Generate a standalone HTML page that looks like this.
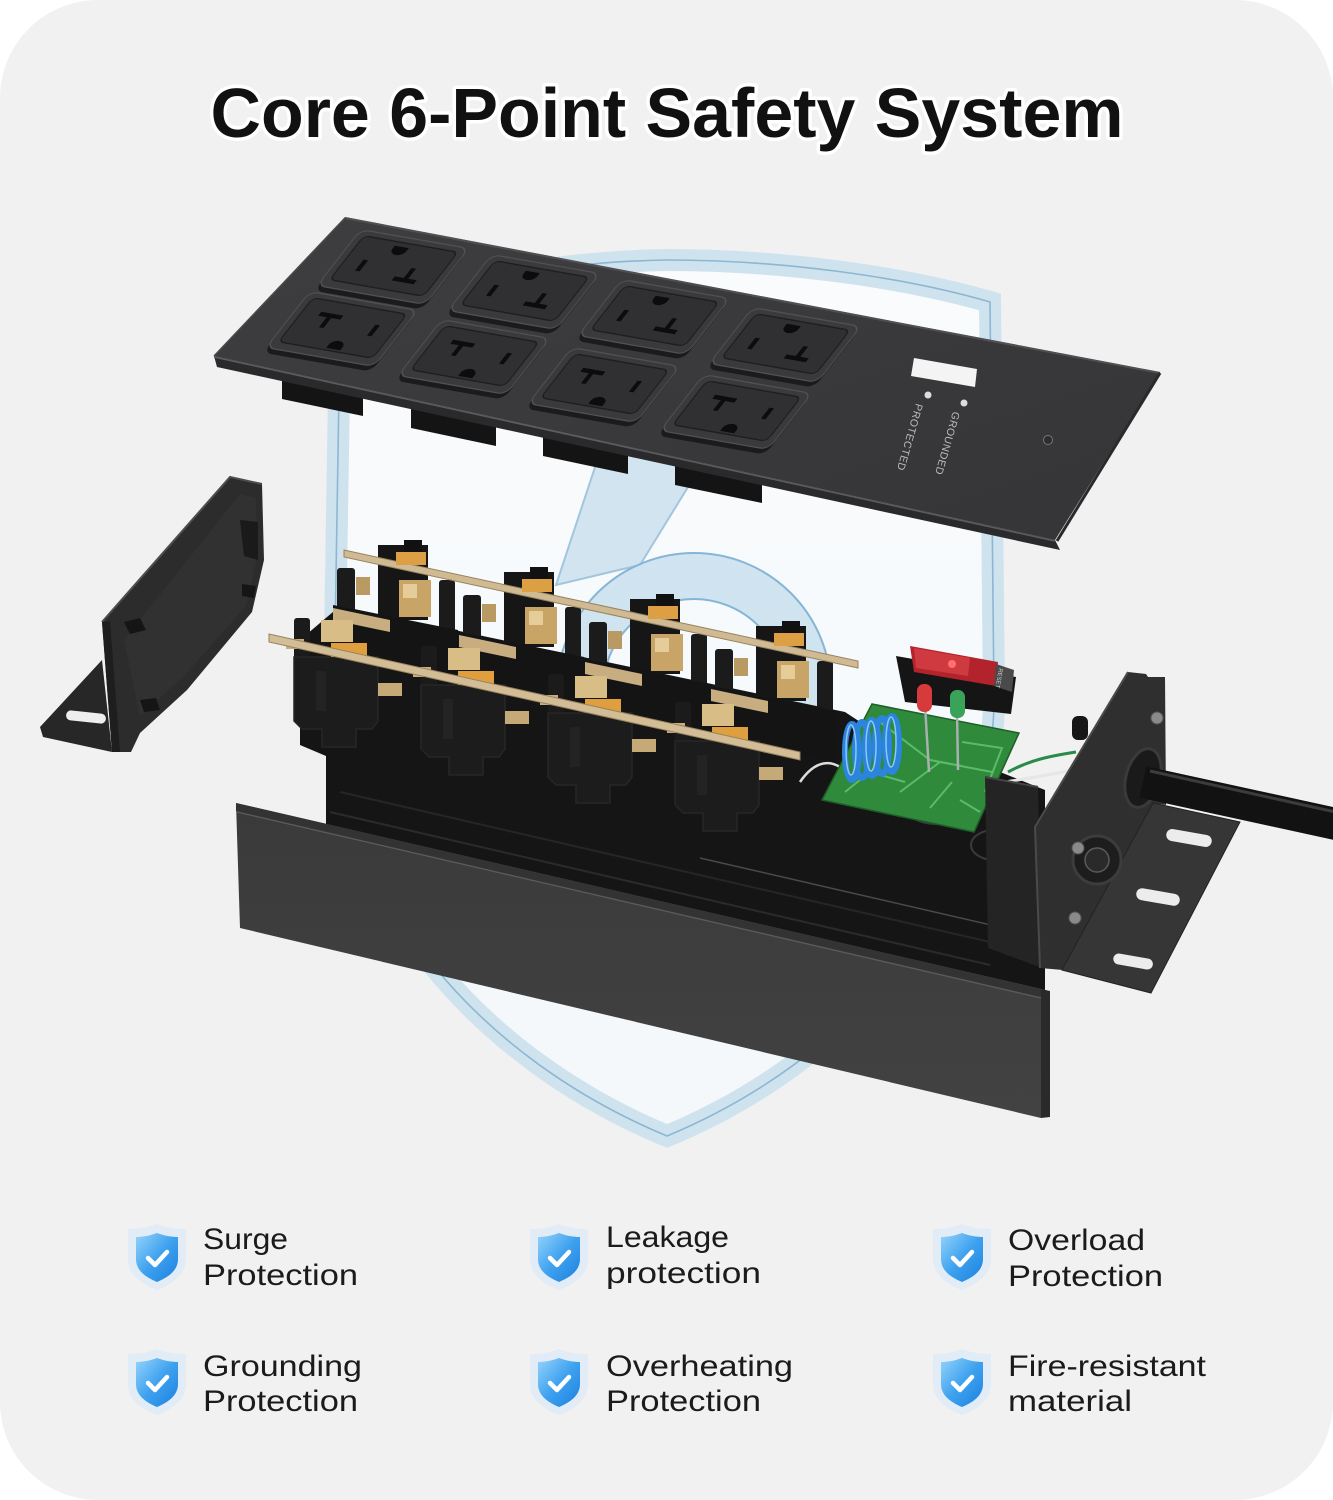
<!DOCTYPE html>
<html><head><meta charset="utf-8">
<style>
html,body{margin:0;padding:0;background:#fff;}
svg{display:block;}
</style></head>
<body>
<svg width="1333" height="1500" viewBox="0 0 1333 1500" xmlns="http://www.w3.org/2000/svg">
<defs>
 <linearGradient id="shFill" x1="0" y1="0" x2="0" y2="1">
  <stop offset="0" stop-color="#f9fbfc"/><stop offset="1" stop-color="#f4f8fb"/>
 </linearGradient>
 <linearGradient id="icon" x1="0" y1="0" x2="1" y2="1">
  <stop offset="0" stop-color="#95d3fb"/><stop offset="0.5" stop-color="#3fa2ef"/><stop offset="1" stop-color="#1b80e0"/>
 </linearGradient>
 <linearGradient id="plateG" x1="0" y1="0" x2="1" y2="1">
  <stop offset="0" stop-color="#3e3e40"/><stop offset="1" stop-color="#353537"/>
 </linearGradient>
 <linearGradient id="panelG" x1="0" y1="0" x2="0" y2="1">
  <stop offset="0" stop-color="#3a3a3a"/><stop offset="1" stop-color="#424242"/>
 </linearGradient>
 <g id="slots" fill="#0c0c0c">
  <path d="M-13,-19 h14 v3 a7,5 0 0 1 -14,0 z"/>
  <rect x="-31" y="-2" width="4.5" height="11"/>
  <rect x="17" y="-2" width="4.5" height="11"/>
  <rect x="8" y="8" width="22" height="4"/>
 </g>
 <g id="outlet">
  <rect x="-53" y="-25" width="108" height="58" rx="8" fill="#1b1b1d"/>
  <rect x="-54" y="-28" width="108" height="56" rx="8" fill="#3a3a3c" stroke="#515153" stroke-width="1.2"/>
  <rect x="-47" y="-23" width="94" height="44" rx="5" fill="#303032" stroke="#1e1e20" stroke-width="1.2"/>
 </g>
 <g id="backSock">
  <rect x="-41" y="18" width="18" height="46" rx="3" fill="#1b1b1b"/>
  <rect x="0" y="-5" width="50" height="75" fill="#161616"/>
  <rect x="61" y="30" width="16" height="55" rx="3" fill="#1b1b1b"/>
  <path d="M-45,55 L80,80 L80,130 L-45,105 Z" fill="#141414"/>
  <rect x="-22" y="27" width="14" height="18" fill="#b99a62"/>
  <rect x="21" y="30" width="32" height="37" fill="#c9a467"/>
  <rect x="25" y="34" width="14" height="14" fill="#e6cc98"/>
  <path d="M-45,58 L12,70 L12,82 L-45,70 Z" fill="#c7ad7f"/>
 </g>
 <g id="frontSock">
  <rect x="0" y="-39" width="16" height="45" rx="3" fill="#1b1b1b"/>
  <path d="M0,0 H84 V64 L78,72 H62 V90 H28 V72 H8 L0,64 Z" fill="#1c1c1c" stroke="#262626" stroke-width="1.5"/>
  <rect x="22" y="14" width="10" height="40" fill="#232323"/>
  <rect x="27" y="-37" width="32" height="22" fill="#d9bd86"/>
  <rect x="37" y="-14" width="36" height="14" fill="#df9f3f"/>
  <rect x="-8" y="-18" width="18" height="10" fill="#c7ae80"/>
  <rect x="84" y="26" width="24" height="13" fill="#c5aa78"/>
 </g>
 <g id="ic">
  <path d="M0,-33 C10,-29 20,-28 29,-28 L29,2 C29,17 16,27 0,33 C-16,27 -29,17 -29,2 L-29,-28 C-20,-28 -10,-29 0,-33 Z" fill="#e1ecf6"/>
  <path d="M0,-24 C8,-21 15,-20 21,-20 L21,2 C21,13 12,20 0,25 C-12,20 -21,13 -21,2 L-21,-20 C-15,-20 -8,-21 0,-24 Z" fill="url(#icon)"/>
  <path d="M-9,1 L-2,8 L10,-5" fill="none" stroke="#fff" stroke-width="4.5" stroke-linecap="round" stroke-linejoin="round"/>
 </g>
</defs>

<!-- background -->
<rect x="0" y="0" width="1333" height="1500" fill="#ffffff"/>
<rect x="0" y="0" width="1333" height="1500" rx="98" ry="98" fill="#f1f1f1"/>

<!-- big shield -->
<path d="M340,330 C440,280 560,262 666,260 C780,260 900,276 990,302 L994,700 C992,900 850,1060 667,1136 C484,1060 336,900 334,700 Z" fill="url(#shFill)" stroke="#cfe3ef" stroke-width="22"/>
<path d="M340,330 C440,280 560,262 666,260 C780,260 900,276 990,302 L994,700 C992,900 850,1060 667,1136 C484,1060 336,900 334,700 Z" fill="none" stroke="#8cb6d2" stroke-width="1.6"/>

<!-- glass 6 -->
<g>
 <path d="M604,440 L712,448 L640,565 L556,585 Z" fill="#c2dcec" opacity="0.7" stroke="#7fb0d2" stroke-width="2"/>
 <circle cx="694" cy="690" r="114" fill="none" stroke="#c6dfee" stroke-width="46" opacity="0.8"/>
 <circle cx="694" cy="690" r="137" fill="none" stroke="#86b5d5" stroke-width="2"/>
 <circle cx="694" cy="690" r="91" fill="none" stroke="#86b5d5" stroke-width="2"/>
</g>

<!-- title -->
<text x="667" y="137" text-anchor="middle" font-family="'Liberation Sans', sans-serif" font-weight="bold" font-size="70" fill="#111" stroke="#ffffff" stroke-width="7" stroke-linejoin="round" paint-order="stroke" textLength="913" lengthAdjust="spacingAndGlyphs">Core 6-Point Safety System</text>

<!-- left bracket -->
<polygon points="230,477 262,484 264,560 252,612 187,690 140,733 131,752 112,752 102,622" fill="#2c2c2c"/>
<polygon points="240,494 256,498 257,558 246,606 184,676 140,716 124,640" fill="#313131"/>
<polyline points="102,622 230,477 262,484" fill="none" stroke="#4d4d4d" stroke-width="2"/>
<polygon points="102,622 110,621 120,752 112,752" fill="#1e1e1e"/>
<polygon points="102,660 112,752 43,737 40,727" fill="#272727"/>
<rect x="66" y="712" width="40" height="10" rx="5" transform="rotate(6 86 717)" fill="#eeeeee"/>
<polygon points="124,622 140,618 146,630 130,634" fill="#151515"/>
<polygon points="140,700 156,698 160,710 144,712" fill="#151515"/>
<polygon points="240,520 258,522 258,560 244,556" fill="#1a1a1a"/>
<polygon points="242,584 256,586 254,598 242,596" fill="#151515"/>

<!-- socket mass / extrusion -->
<polygon points="300,640 340,606 845,712 880,735 1000,772 1045,790 1045,990 326,824 326,756 300,745" fill="#151515"/>
<line x1="330" y1="812" x2="990" y2="965" stroke="#2b2b2b" stroke-width="2"/>
<line x1="340" y1="792" x2="990" y2="942" stroke="#262626" stroke-width="2"/>
<line x1="700" y1="858" x2="1030" y2="934" stroke="#4a4a4a" stroke-width="1.5"/>

<!-- back sockets -->
<use href="#backSock" transform="translate(378,550)"/>
<use href="#backSock" transform="translate(504,577)"/>
<use href="#backSock" transform="translate(630,604)"/>
<use href="#backSock" transform="translate(756,631)"/>
<polygon points="344,550 858,661 858,668 344,557" fill="#cfba93" stroke="#98835c" stroke-width="1"/>
<g fill="#dc9f44">
 <rect x="396" y="552" width="30" height="13"/>
 <rect x="522" y="579" width="30" height="13"/>
 <rect x="648" y="606" width="30" height="13"/>
 <rect x="774" y="633" width="30" height="13"/>
</g>
<g fill="#111">
 <rect x="404" y="540" width="18" height="12"/>
 <rect x="530" y="567" width="18" height="12"/>
 <rect x="656" y="594" width="18" height="12"/>
 <rect x="782" y="621" width="18" height="12"/>
</g>

<!-- front sockets -->
<use href="#frontSock" transform="translate(294,657)"/>
<use href="#frontSock" transform="translate(421,685)"/>
<use href="#frontSock" transform="translate(548,713)"/>
<use href="#frontSock" transform="translate(675,741)"/>
<polygon points="269,634 800,752 800,760 269,642" fill="#d2bd96" stroke="#98835c" stroke-width="1"/>

<!-- wires -->
<path d="M800,782 C815,760 832,758 846,772" stroke="#dddddd" stroke-width="2.5" fill="none"/>
<ellipse cx="935" cy="808" rx="28" ry="16" stroke="#3a3a3a" stroke-width="2" fill="none"/>
<ellipse cx="995" cy="845" rx="24" ry="15" stroke="#3a3a3a" stroke-width="2" fill="none"/>
<path d="M1005,782 C1030,778 1050,775 1072,770" stroke="#e6e6e6" stroke-width="3" fill="none"/>
<path d="M1008,772 C1030,760 1050,756 1076,752" stroke="#2a8a48" stroke-width="3" fill="none"/>

<!-- PCB -->
<polygon points="872,704 1019,733 974,832 822,800" fill="#2f8a3c" stroke="#1f5e28" stroke-width="1.5"/>
<path d="M880,722 L930,760 L962,766 M900,792 L940,762 L992,772 M845,792 L870,772 L905,782 M962,742 L1002,748 L985,792 M930,808 L952,782 M980,812 L960,800" stroke="#62c470" stroke-width="2" fill="none" opacity="0.85"/>

<!-- switch -->
<polygon points="896,656 1016,677 1011,714 905,702" fill="#151515"/>
<polygon points="910,646 998,662 996,686 914,672" fill="#b3232b"/>
<polygon points="914,648 970,658 968,676 916,668" fill="#d8434a" opacity="0.75"/>
<circle cx="952" cy="664" r="4" fill="#ff7070"/>
<polygon points="996,664 1014,670 1012,692 994,686" fill="#4a4a4a"/>
<text transform="translate(999,668) rotate(100)" font-family="'Liberation Sans', sans-serif" font-size="6" fill="#cfcfcf">RESET</text>

<!-- LEDs -->
<line x1="925" y1="705" x2="929" y2="772" stroke="#a8b0b0" stroke-width="2.5"/>
<rect x="917" y="684" width="15" height="28" rx="7" fill="#d63a3a"/>
<line x1="957" y1="710" x2="958" y2="770" stroke="#a8b0b0" stroke-width="2.5"/>
<rect x="950" y="690" width="15" height="28" rx="7" fill="#3aa35a"/>

<!-- coil -->
<g fill="none" stroke="#2b84dd" stroke-width="6">
 <ellipse cx="852" cy="752" rx="7" ry="28"/>
 <ellipse cx="862" cy="750" rx="7" ry="28"/>
 <ellipse cx="872" cy="748" rx="7" ry="28"/>
 <ellipse cx="882" cy="746" rx="7" ry="28"/>
 <ellipse cx="892" cy="744" rx="7" ry="28"/>
</g>
<g fill="none" stroke="#8cc8f7" stroke-width="1.5">
 <ellipse cx="851" cy="750" rx="5" ry="25"/>
 <ellipse cx="871" cy="746" rx="5" ry="25"/>
 <ellipse cx="891" cy="742" rx="5" ry="25"/>
</g>

<!-- right end cap -->
<polygon points="985,776 1038,786 1042,968 988,948" fill="#242424"/>
<line x1="985" y1="777" x2="1038" y2="787" stroke="#444" stroke-width="2"/>

<!-- front panel -->
<polygon points="236,803 1041,989 1041,1118 240,928" fill="url(#panelG)"/>
<polygon points="236,803 1041,989 1041,997 236,811" fill="#333333"/>
<line x1="237" y1="812" x2="1041" y2="998" stroke="#5a5a5a" stroke-width="1.3"/>
<polygon points="1041,989 1050,991 1050,1117 1041,1118" fill="#2a2a2a"/>

<!-- right bracket -->
<rect x="1072" y="716" width="16" height="24" rx="6" fill="#161616"/>
<polygon points="1128,672 1146,674 1148,677 1165,677 1166,805 1153,803 1063,970 1040,968 1035,827" fill="#2f2f2f"/>
<polyline points="1128,672 1035,827 1040,968" stroke="#4a4a4a" stroke-width="2" fill="none"/>
<polygon points="1153,803 1240,822 1151,993 1062,970" fill="#363636" stroke="#222" stroke-width="1"/>
<g fill="#ececec">
 <rect x="1166" y="832" width="46" height="12" rx="6" transform="rotate(10 1189 838)"/>
 <rect x="1136" y="891" width="44" height="12" rx="6" transform="rotate(10 1158 897)"/>
 <rect x="1113" y="956" width="40" height="11" rx="5.5" transform="rotate(10 1133 962)"/>
</g>
<circle cx="1097" cy="860" r="24" fill="#1d1d1d" stroke="#3c3c3c" stroke-width="3"/>
<circle cx="1097" cy="860" r="12" fill="#2a2a2a" stroke="#5a5a5a" stroke-width="1.5"/>
<g fill="#8a8a8a" stroke="#555" stroke-width="1">
 <circle cx="1157" cy="718" r="6"/>
 <circle cx="1078" cy="848" r="6"/>
 <circle cx="1075" cy="918" r="6"/>
</g>
<ellipse cx="1143" cy="778" rx="17" ry="30" transform="rotate(15 1143 778)" fill="#1a1a1a" stroke="#3a3a3a" stroke-width="3"/>
<path d="M1143,782 L1345,826" stroke="#121212" stroke-width="32"/>
<path d="M1150,771 L1340,813" stroke="#3c3c3c" stroke-width="3"/>

<!-- clips under plate -->
<g fill="#141414">
 <polygon points="282,374 363,391 363,416 282,399"/>
 <polygon points="411,402 496,420 496,446 411,428"/>
 <polygon points="543,430 628,448 628,474 543,456"/>
 <polygon points="675,459 762,477 762,503 675,485"/>
</g>

<!-- top plate -->
<polygon points="345,217 1160,372 1055,540 214,356" fill="url(#plateG)"/>
<polygon points="214,356 1055,540 1060,550 217,367" fill="#2a2a2c"/>
<line x1="214" y1="357" x2="1055" y2="541" stroke="#5c5c5e" stroke-width="1.5"/>
<line x1="345" y1="218" x2="1160" y2="373" stroke="#505052" stroke-width="2"/>
<line x1="345" y1="218" x2="214" y2="356" stroke="#4a4a4c" stroke-width="1.5"/>
<line x1="1160" y1="373" x2="1057" y2="541" stroke="#2a2a2c" stroke-width="3"/>

<!-- outlets -->
<g transform="matrix(1,0.175,-0.78,1,393,267)"><use href="#outlet"/><use href="#slots"/></g>
<g transform="matrix(1,0.175,-0.78,1,524,292)"><use href="#outlet"/><use href="#slots"/></g>
<g transform="matrix(1,0.175,-0.78,1,654,317)"><use href="#outlet"/><use href="#slots"/></g>
<g transform="matrix(1,0.175,-0.78,1,785,345)"><use href="#outlet"/><use href="#slots"/></g>
<g transform="matrix(1,0.175,-0.78,1,342,329)"><use href="#outlet"/><use href="#slots" transform="rotate(180)"/></g>
<g transform="matrix(1,0.175,-0.78,1,474,357)"><use href="#outlet"/><use href="#slots" transform="rotate(180)"/></g>
<g transform="matrix(1,0.175,-0.78,1,604,385)"><use href="#outlet"/><use href="#slots" transform="rotate(180)"/></g>
<g transform="matrix(1,0.175,-0.78,1,736,412)"><use href="#outlet"/><use href="#slots" transform="rotate(180)"/></g>

<!-- plate right details -->
<polygon points="914,358 977,369 975,387 911,376" fill="#f4f4f4"/>
<circle cx="928" cy="395" r="3.5" fill="#dddddd"/>
<circle cx="964" cy="403" r="3.5" fill="#dddddd"/>
<text transform="translate(953,411) rotate(106)" font-family="'Liberation Sans', sans-serif" font-size="10.5" fill="#bdbdbd" letter-spacing="0.5">GROUNDED</text>
<text transform="translate(916,403) rotate(106)" font-family="'Liberation Sans', sans-serif" font-size="10.5" fill="#bdbdbd" letter-spacing="0.5">PROTECTED</text>
<circle cx="1048" cy="440" r="4.5" fill="#2c2c2e" stroke="#777" stroke-width="1"/>

<!-- bottom features -->
<use href="#ic" transform="translate(157,1257)"/>
<use href="#ic" transform="translate(559,1257)"/>
<use href="#ic" transform="translate(962,1257)"/>
<use href="#ic" transform="translate(157,1382)"/>
<use href="#ic" transform="translate(559,1382)"/>
<use href="#ic" transform="translate(962,1382)"/>

<g font-family="'Liberation Sans', sans-serif" font-size="30" fill="#1b1b1b">
 <text x="203" y="1249" textLength="85" lengthAdjust="spacingAndGlyphs">Surge</text>
 <text x="203" y="1285" textLength="155" lengthAdjust="spacingAndGlyphs">Protection</text>
 <text x="606" y="1247" textLength="123" lengthAdjust="spacingAndGlyphs">Leakage</text>
 <text x="606" y="1283" textLength="155" lengthAdjust="spacingAndGlyphs">protection</text>
 <text x="1008" y="1250" textLength="137" lengthAdjust="spacingAndGlyphs">Overload</text>
 <text x="1008" y="1286" textLength="155" lengthAdjust="spacingAndGlyphs">Protection</text>
 <text x="203" y="1376" textLength="159" lengthAdjust="spacingAndGlyphs">Grounding</text>
 <text x="203" y="1411" textLength="155" lengthAdjust="spacingAndGlyphs">Protection</text>
 <text x="606" y="1376" textLength="187" lengthAdjust="spacingAndGlyphs">Overheating</text>
 <text x="606" y="1411" textLength="155" lengthAdjust="spacingAndGlyphs">Protection</text>
 <text x="1008" y="1376" textLength="198" lengthAdjust="spacingAndGlyphs">Fire-resistant</text>
 <text x="1008" y="1411" textLength="124" lengthAdjust="spacingAndGlyphs">material</text>
</g>
</svg>
</body></html>
